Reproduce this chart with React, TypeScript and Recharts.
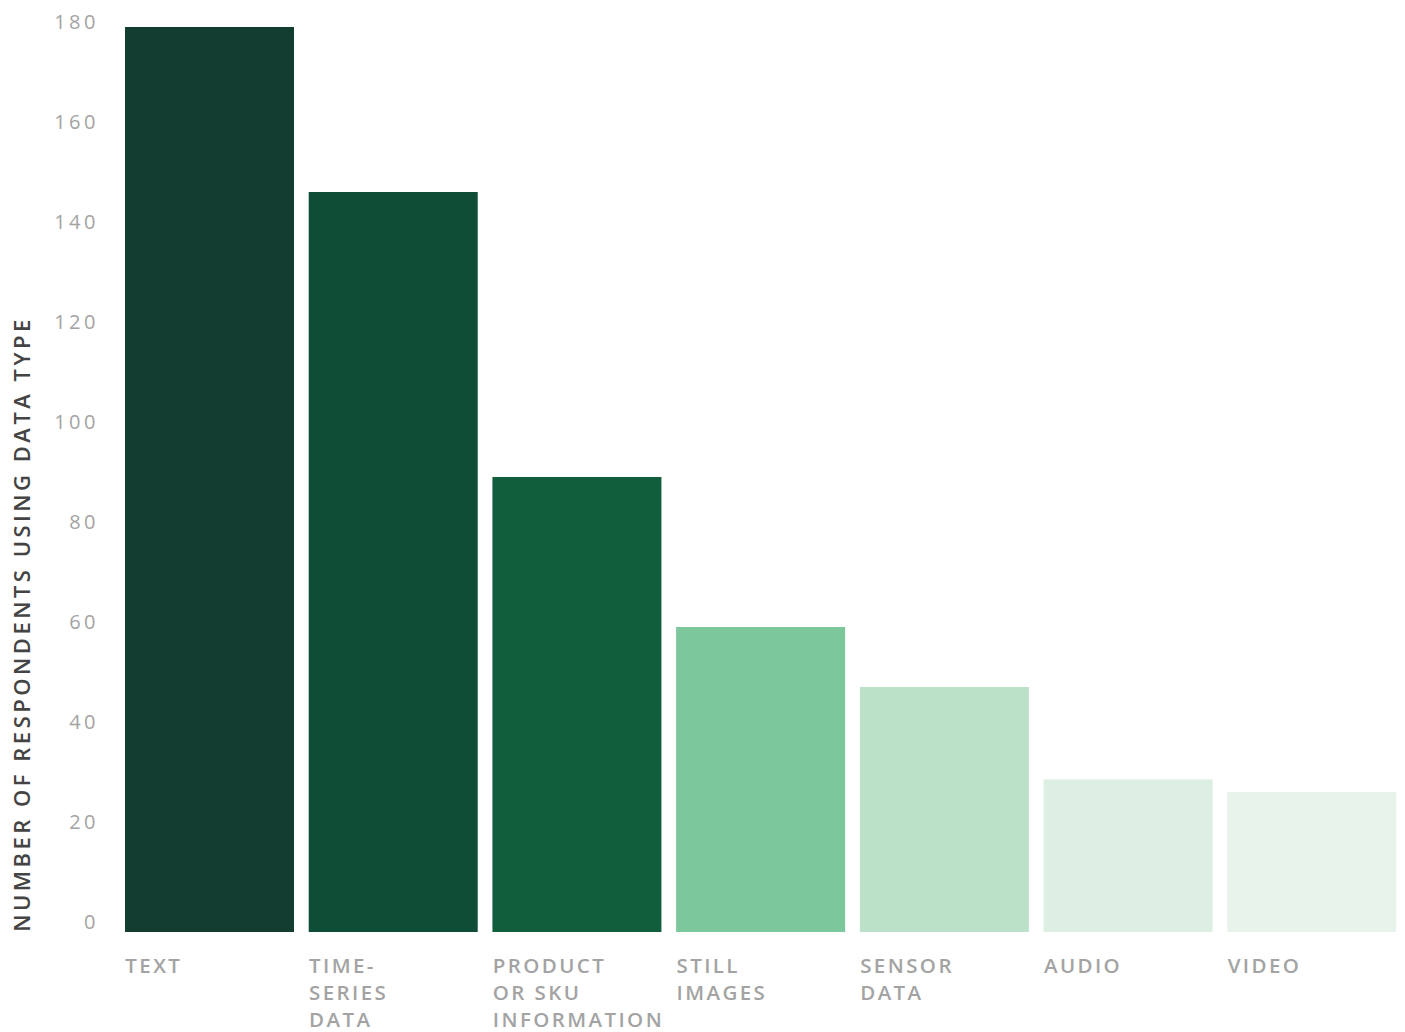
import React from "react";
import { BarChart, Bar, XAxis, YAxis, Cell } from "recharts";

// categories, split into the lines shown under each bar
const categories = ["Text", "Time-series data", "Product or SKU information", "Still images", "Sensor data", "Audio", "Video"];
const categoryLines = [
  ["TEXT"],
  ["TIME-", "SERIES", "DATA"],
  ["PRODUCT", "OR SKU", "INFORMATION"],
  ["STILL", "IMAGES"],
  ["SENSOR", "DATA"],
  ["AUDIO"],
  ["VIDEO"],
];
const respondents = [181, 148, 91, 61, 49, 30.5, 28];
const barColors = ["#143d31", "#104d36", "#115e3d", "#7cc79b", "#bce1c9", "#ddeee2", "#e8f3eb"];
const yTicks = [0, 20, 40, 60, 80, 100, 120, 140, 160, 180];

const data = categories.map((name, i) => ({
  name,
  value: respondents[i],
}));

const FONT = "'Open Sans', Lato, sans-serif";
const BAR_SIZE = 169;

const CategoryTick = (props: any) => {
  const { x, y, index } = props;
  const lines = categoryLines[index] || [];
  return (
    <text
      x={x - BAR_SIZE / 2}
      y={y + 19}
      fill="#a3a3a3"
      fontFamily={FONT}
      fontSize={20.5}
      fontWeight={600}
      letterSpacing={2.4}
      textAnchor="start"
    >
      {lines.map((l, i) => (
        <tspan key={i} x={x - BAR_SIZE / 2} dy={i === 0 ? 14 : 27}>
          {l}
        </tspan>
      ))}
    </text>
  );
};

const ValueTick = (props: any) => {
  const { y, payload } = props;
  return (
    <text
      x={99}
      y={y - 11}
      fill="#a3a3a3"
      fontFamily={FONT}
      fontSize={20}
      fontWeight={500}
      letterSpacing={3.5}
      textAnchor="end"
      dominantBaseline="central"
    >
      {payload.value}
    </text>
  );
};

export default function App() {
  return (
    <div style={{ position: "absolute", left: 0, top: 0, width: 1405, height: 1032, background: "#fff" }}>
      <BarChart
        width={1405}
        height={1032}
        data={data}
        margin={{ top: 26, right: 1, left: 0, bottom: 0 }}
      >
        <XAxis
          dataKey="name"
          axisLine={false}
          tickLine={false}
          height={100}
          interval={0}
          tick={<CategoryTick />}
        />
        <YAxis
          width={118}
          domain={[0, 181.2]}
          ticks={yTicks}
          axisLine={false}
          tickLine={false}
          tick={<ValueTick />}
        />
        <Bar dataKey="value" barSize={BAR_SIZE} isAnimationActive={false}>
          {data.map((d, i) => (
            <Cell key={d.name} fill={barColors[i]} />
          ))}
        </Bar>
      </BarChart>
      <div
        style={{
          position: "absolute",
          left: 21,
          top: 624,
          transform: "translate(-50%, -50%) rotate(-90deg)",
          whiteSpace: "nowrap",
          fontFamily: FONT,
          fontSize: 22,
          fontWeight: 600,
          letterSpacing: 3.5,
          color: "#444",
        }}
      >
        NUMBER OF RESPONDENTS USING DATA TYPE
      </div>
    </div>
  );
}
